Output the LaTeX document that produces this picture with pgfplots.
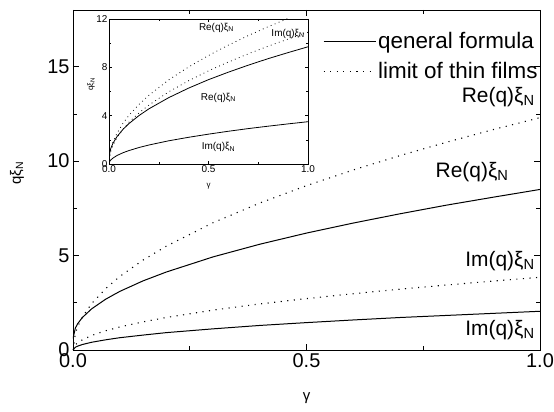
\documentclass[border=0pt]{standalone}
\usepackage{fontspec}
\setmainfont{Liberation Sans}
\usepackage{pgfplots}
\pgfplotsset{compat=1.18}

\newcommand{\xiN}{ξ\textsubscript{N}}
\newcommand{\mainfs}{\fontsize{20}{22}\selectfont}
\newcommand{\legfs}{\fontsize{22.5}{24}\selectfont}
\newcommand{\curvefs}{\fontsize{21}{23}\selectfont}
\newcommand{\insetfs}{\fontsize{10}{11}\selectfont}

\begin{document}
\begin{tikzpicture}
\useasboundingbox (-73bp,-62bp) rectangle (481bp,350bp);

% main axis
\begin{axis}[
    at={(0,0)}, anchor=south west,
    scale only axis,
    width=467bp, height=340bp,
    xmin=0, xmax=1, ymin=0, ymax=18,
    xtick={0,0.5,1}, xticklabels={0.0,0.5,1.0},
    ytick={0,5,10,15},
    minor x tick num=1, minor y tick num=1,
    tick align=inside,
    major tick length=6bp, minor tick length=4bp,
    tick style={line width=0.6pt, black},
    axis line style={line width=0.8pt},
    tick label style={font=\mainfs},
    /pgf/number format/assume math mode=true,
    xlabel={γ}, ylabel={qξ\textsubscript{N}},
    label style={font=\fontsize{15}{17}\selectfont},
    xlabel style={at={(0.5,-0.14)}, anchor=center},
    ylabel style={at={(-0.12,0.52)}, anchor=center},
    legend style={at={(0.535,0.94)}, anchor=north west, draw=none, fill=none,
        font=\legfs, row sep=8bp, inner sep=0pt},
    legend cell align=left,
    legend image code/.code={\draw[#1] (0bp,0bp) -- (52bp,0bp);},
]
% solid Re
\addplot[black, line width=1pt] coordinates {
    (0,0.6) (0.005,1.16) (0.01,1.39) (0.02,1.72) (0.04,2.18) (0.07,2.69)
    (0.1,3.10) (0.15,3.66) (0.2,4.13) (0.3,4.93) (0.4,5.60) (0.5,6.19)
    (0.6,6.72) (0.7,7.21) (0.8,7.67) (0.9,8.09) (1.0,8.5)
};
% dotted Re
\addplot[black, line width=1.1pt, dash pattern=on 1.1pt off 5.5pt] coordinates {
    (0,0) (0.005,0.87) (0.01,1.23) (0.02,1.74) (0.04,2.46) (0.07,3.25)
    (0.1,3.89) (0.15,4.76) (0.2,5.50) (0.3,6.74) (0.4,7.78) (0.5,8.70)
    (0.6,9.53) (0.7,10.29) (0.8,11.00) (0.9,11.67) (1.0,12.3)
};
% solid Im
\addplot[black, line width=1pt] coordinates {
    (0,0) (0.005,0.145) (0.01,0.205) (0.02,0.29) (0.04,0.41) (0.07,0.54)
    (0.1,0.65) (0.15,0.79) (0.2,0.92) (0.3,1.12) (0.4,1.30) (0.5,1.45)
    (0.6,1.59) (0.7,1.72) (0.8,1.83) (0.9,1.94) (1.0,2.05)
};
% dotted Im
\addplot[black, line width=1.1pt, dash pattern=on 1.1pt off 5.5pt] coordinates {
    (0,0) (0.005,0.27) (0.01,0.385) (0.02,0.54) (0.04,0.77) (0.07,1.02)
    (0.1,1.22) (0.15,1.49) (0.2,1.72) (0.3,2.11) (0.4,2.44) (0.5,2.72)
    (0.6,2.98) (0.7,3.22) (0.8,3.44) (0.9,3.65) (1.0,3.85)
};
\legend{qeneral formula, limit of thin films}
\node[anchor=east, font=\curvefs] at (axis cs:0.996,13.4) {Re(q)\xiN};
\node[anchor=east, font=\curvefs] at (axis cs:0.94,9.4) {Re(q)\xiN};
\node[anchor=east, font=\curvefs] at (axis cs:0.996,4.7) {Im(q)\xiN};
\node[anchor=east, font=\curvefs] at (axis cs:0.996,1.06) {Im(q)\xiN};
\end{axis}

% inset
\begin{axis}[
    at={(36bp,186bp)}, anchor=south west,
    scale only axis,
    width=199bp, height=145bp,
    xmin=0, xmax=1, ymin=0, ymax=12,
    xtick={0,0.5,1}, xticklabels={0.0,0.5,1.0},
    ytick={0,4,8,12},
    minor x tick num=1, minor y tick num=1,
    tick align=inside,
    major tick length=3bp, minor tick length=2bp,
    tick style={line width=0.5pt, black},
    axis line style={line width=0.7pt},
    tick label style={font=\insetfs},
    xticklabel style={yshift=2bp},
    yticklabel style={xshift=2bp},
    /pgf/number format/assume math mode=true,
    xlabel={γ}, ylabel={qξ\textsubscript{N}},
    label style={font=\fontsize{8}{9}\selectfont},
    xlabel style={at={(0.5,-0.15)}, anchor=center},
    ylabel style={at={(-0.09,0.55)}, anchor=center},
]
\addplot[black, line width=0.8pt] coordinates {
    (0,0.4) (0.005,1.06) (0.01,1.33) (0.02,1.72) (0.04,2.26) (0.07,2.86)
    (0.1,3.34) (0.15,4.00) (0.2,4.56) (0.3,5.49) (0.4,6.28) (0.5,6.98)
    (0.6,7.60) (0.7,8.18) (0.8,8.72) (0.9,9.22) (1.0,9.7)
};
\addplot[black, line width=0.8pt, dash pattern=on 0.8pt off 3.5pt] coordinates {
    (0,0) (0.005,0.90) (0.01,1.27) (0.02,1.80) (0.04,2.54) (0.07,3.36)
    (0.1,4.02) (0.15,4.92) (0.2,5.68) (0.3,6.96) (0.4,8.03) (0.5,8.98)
    (0.6,9.84) (0.7,10.63) (0.8,11.36) (0.9,12.05) (1.0,12.7)
};
\addplot[black, line width=0.8pt] coordinates {
    (0,0) (0.005,0.25) (0.01,0.35) (0.02,0.49) (0.04,0.70) (0.07,0.93)
    (0.1,1.11) (0.15,1.36) (0.2,1.57) (0.3,1.92) (0.4,2.21) (0.5,2.47)
    (0.6,2.71) (0.7,2.93) (0.8,3.13) (0.9,3.32) (1.0,3.5)
};
\addplot[black, line width=0.8pt, dash pattern=on 0.8pt off 3.5pt] coordinates {
    (0,0) (0.005,0.77) (0.01,1.09) (0.02,1.54) (0.04,2.18) (0.07,2.88)
    (0.1,3.45) (0.15,4.22) (0.2,4.87) (0.3,5.97) (0.4,6.89) (0.5,7.71)
    (0.6,8.44) (0.7,9.12) (0.8,9.75) (0.9,10.34) (1.0,10.9)
};
\node[font=\insetfs] at (axis cs:0.54,11.3) {Re(q)\xiN};
\node[font=\insetfs] at (axis cs:0.9,10.8) {Im(q)\xiN};
\node[font=\insetfs] at (axis cs:0.55,5.5) {Re(q)\xiN};
\node[font=\insetfs] at (axis cs:0.55,1.4) {Im(q)\xiN};
\end{axis}
\end{tikzpicture}
\end{document}
